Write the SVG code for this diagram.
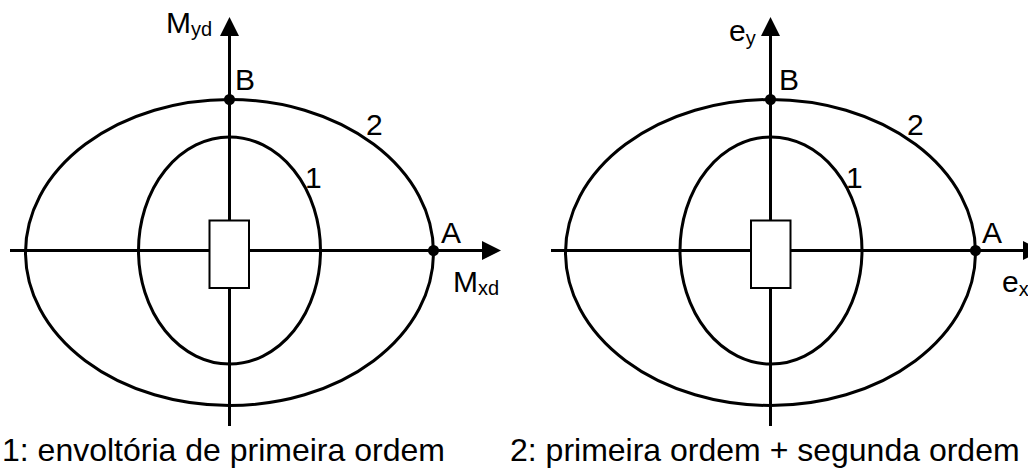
<svg xmlns="http://www.w3.org/2000/svg" width="1028" height="468" viewBox="0 0 1028 468" font-family="Arial, 'Liberation Sans', Helvetica, sans-serif">
<defs>
<style>
.ax{stroke:#000;stroke-width:3;fill:none}
.el{stroke:#000;stroke-width:3;fill:none}
.col{stroke:#000;stroke-width:2;fill:#fff}
.dot{fill:#000}
.ah{fill:#000}
.lb{font-size:30px;font-family:Arial,'Liberation Sans',Helvetica,sans-serif;fill:#000}
.sb{font-size:20px}
.cap{font-size:32px;font-family:Arial,'Liberation Sans',Helvetica,sans-serif;fill:#000}
</style>
</defs>
<rect width="1028" height="468" fill="#fff"/>
<g id="connectors">
<line class="ax" x1="229.5" y1="34" x2="229.5" y2="426"/>
<polygon class="ah" points="229.5,17 220,36 239,36"/>
<line class="ax" x1="10" y1="250.5" x2="484" y2="250.5"/>
<polygon class="ah" points="501,250.5 482,241 482,260"/>
<line class="ax" x1="770.5" y1="34" x2="770.5" y2="426"/>
<polygon class="ah" points="770.5,17 761,36 780,36"/>
<line class="ax" x1="551" y1="250.5" x2="1025" y2="250.5"/>
<polygon class="ah" points="1042,250.5 1023,241 1023,260"/>
</g>
<g id="left-envelope-2"><ellipse class="el" cx="229.5" cy="252.5" rx="204" ry="153"/><text class="lb" x="366" y="135">2</text></g>
<g id="left-envelope-1"><ellipse class="el" cx="229.5" cy="250.5" rx="91" ry="113.5"/><text class="lb" x="305" y="188">1</text></g>
<g id="left-column"><rect class="col" x="209.5" y="220.5" width="39.5" height="67.5"/></g>
<g id="left-B"><circle class="dot" cx="229.5" cy="99.5" r="5.5"/><text class="lb" x="235" y="90">B</text></g>
<g id="left-A"><circle class="dot" cx="433.5" cy="250.5" r="5.5"/><text class="lb" x="441" y="243">A</text></g>
<g id="left-axis-labels">
<text class="lb" x="166" y="33">M<tspan class="sb" dy="3">yd</tspan></text>
<text class="lb" x="453" y="292">M<tspan class="sb" dy="3">xd</tspan></text>
</g>
<g id="right-envelope-2"><ellipse class="el" cx="770.5" cy="252.5" rx="205" ry="153"/><text class="lb" x="907" y="135">2</text></g>
<g id="right-envelope-1"><ellipse class="el" cx="771" cy="250.5" rx="91" ry="113.5"/><text class="lb" x="846" y="188">1</text></g>
<g id="right-column"><rect class="col" x="751" y="220.5" width="39.5" height="67.5"/></g>
<g id="right-B"><circle class="dot" cx="770.5" cy="99.5" r="5.5"/><text class="lb" x="779" y="90">B</text></g>
<g id="right-A"><circle class="dot" cx="975.5" cy="250.5" r="5.5"/><text class="lb" x="982" y="243">A</text></g>
<g id="right-axis-labels">
<text class="lb" x="729" y="41">e<tspan class="sb" dy="4">y</tspan></text>
<text class="lb" x="1002" y="292">e<tspan class="sb" dy="4">x</tspan></text>
</g>
<g id="captions">
<text class="cap" x="2" y="461">1: envoltória de primeira ordem</text>
<text class="cap" x="510" y="461">2: primeira ordem + segunda ordem</text>
</g>
</svg>
